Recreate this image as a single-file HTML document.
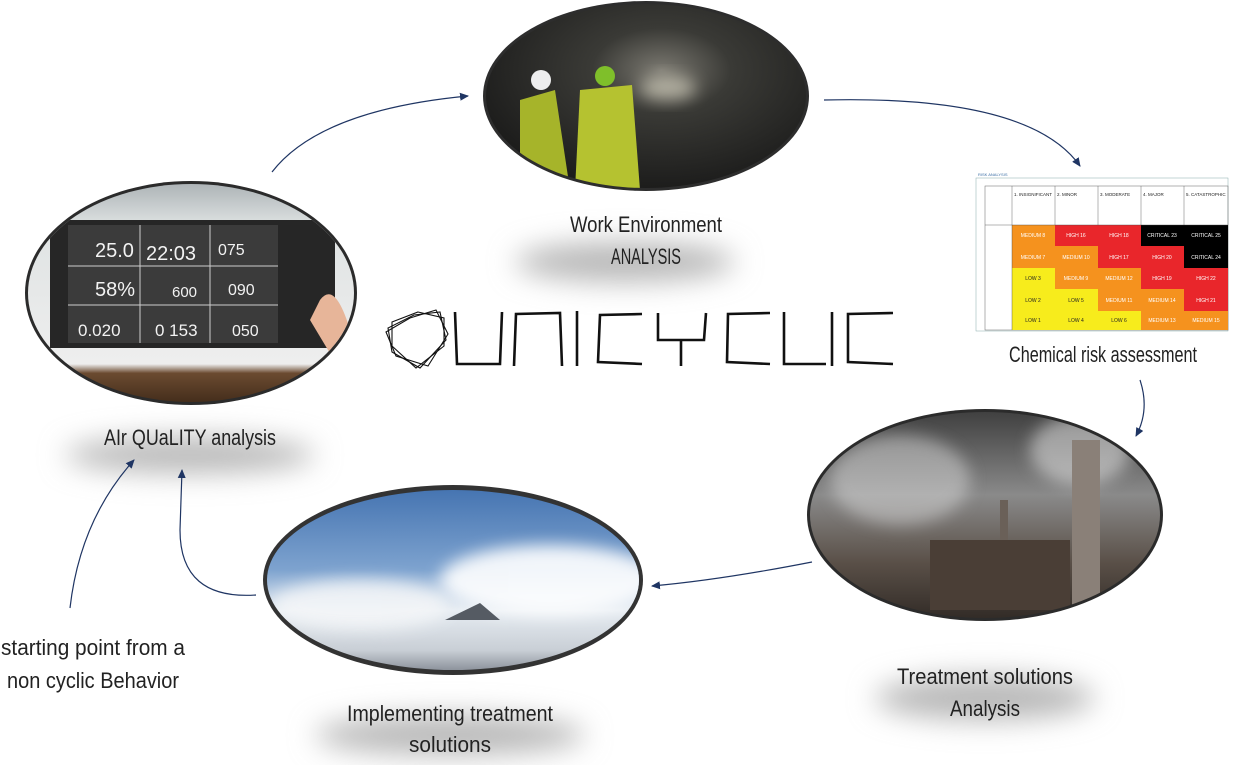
<!DOCTYPE html>
<html><head><meta charset="utf-8"><style>
html,body{margin:0;padding:0;background:#fff;width:1257px;height:765px;overflow:hidden}
svg text{font-family:"Liberation Sans Narrow","Liberation Sans",sans-serif}
</style></head><body>
<svg width="1257" height="765" viewBox="0 0 1257 765" xmlns="http://www.w3.org/2000/svg">
<defs>
<filter id="blur" x="-50%" y="-50%" width="200%" height="200%"><feGaussianBlur stdDeviation="14"/></filter>
<filter id="sb" x="-50%" y="-50%" width="200%" height="200%"><feGaussianBlur stdDeviation="8"/></filter>
<radialGradient id="mine" cx="0.55" cy="0.35" r="0.7"><stop offset="0" stop-color="#7a7870"/><stop offset="0.3" stop-color="#3a3a36"/><stop offset="1" stop-color="#141414"/></radialGradient>
<linearGradient id="sky" x1="0" y1="0" x2="0" y2="1"><stop offset="0" stop-color="#3f6fae"/><stop offset="0.45" stop-color="#7ea3cf"/><stop offset="0.65" stop-color="#e6ecf2"/><stop offset="0.85" stop-color="#c9cfd6"/><stop offset="1" stop-color="#6f7580"/></linearGradient>
<linearGradient id="fac" x1="0" y1="0" x2="0" y2="1"><stop offset="0" stop-color="#3a3a3a"/><stop offset="0.4" stop-color="#8a8a8a"/><stop offset="0.7" stop-color="#5a5048"/><stop offset="1" stop-color="#2a2420"/></linearGradient>
<linearGradient id="air" x1="0" y1="0" x2="0" y2="1"><stop offset="0" stop-color="#a9b0b3"/><stop offset="0.2" stop-color="#dfe3e3"/><stop offset="0.8" stop-color="#eeeeee"/><stop offset="0.84" stop-color="#6b4a30"/><stop offset="1" stop-color="#3a2616"/></linearGradient>
<clipPath id="c1"><ellipse cx="646" cy="96" rx="160" ry="92"/></clipPath>
<clipPath id="c2"><ellipse cx="191" cy="293" rx="163" ry="109"/></clipPath>
<clipPath id="c3"><ellipse cx="985" cy="515" rx="175" ry="103"/></clipPath>
<clipPath id="c4"><ellipse cx="453" cy="580" rx="186" ry="90"/></clipPath>
<marker id="ar" markerWidth="10" markerHeight="10" refX="8" refY="5" orient="auto" markerUnits="userSpaceOnUse"><path d="M0,1 L9,5 L0,9 Z" fill="#1f3563"/></marker>
</defs>

<g filter="url(#blur)" fill="#b8b8b8">
<ellipse cx="190" cy="455" rx="125" ry="18"/>
<ellipse cx="625" cy="262" rx="110" ry="20"/>
<ellipse cx="985" cy="698" rx="110" ry="22"/>
<ellipse cx="450" cy="735" rx="135" ry="20"/>
</g>

<ellipse cx="646" cy="96" rx="163" ry="95" fill="#2d2d2d"/>
<g clip-path="url(#c1)">
<rect x="480" y="0" width="330" height="200" fill="url(#mine)"/>
<ellipse cx="668" cy="88" rx="28" ry="12" fill="#e8e4d0" opacity="0.6" filter="url(#sb)"/>
<path d="M520,100 L555,90 L570,190 L520,190Z" fill="#a6b42a"/>
<path d="M580,90 L632,85 L640,190 L575,190Z" fill="#b5c230"/>
<circle cx="541" cy="80" r="10" fill="#eee"/><circle cx="605" cy="76" r="10" fill="#7fbf2a"/>
</g>

<ellipse cx="191" cy="293" rx="166" ry="112" fill="#2b2b2b"/>
<g clip-path="url(#c2)">
<rect x="20" y="180" width="345" height="230" fill="url(#air)"/>
<rect x="50" y="220" width="285" height="128" fill="#262626"/>
<rect x="68" y="225" width="210" height="118" fill="#3b3b3b"/>
<g stroke="#ccc" stroke-width="1"><line x1="68" y1="266" x2="278" y2="266"/><line x1="68" y1="305" x2="278" y2="305"/><line x1="140" y1="225" x2="140" y2="343"/><line x1="210" y1="225" x2="210" y2="343"/></g>
<g fill="#f2f2f2" font-size="20"><text x="95" y="257">25.0</text><text x="146" y="260">22:03</text><text x="218" y="255" font-size="16">075</text><text x="95" y="296">58%</text><text x="172" y="297" font-size="15">600</text><text x="228" y="295" font-size="16">090</text><text x="78" y="336" font-size="17">0.020</text><text x="155" y="336" font-size="17">0 153</text><text x="232" y="336" font-size="16">050</text></g>
<path d="M320,300 Q335,280 350,330 L340,370 L310,320Z" fill="#e7b599"/>
</g>

<g font-size="5" font-family="Liberation Sans,sans-serif">
<rect x="976" y="178" width="252" height="153" fill="#fff" stroke="#8aa" stroke-width="0.5"/>
<text x="978" y="176" font-size="4" fill="#3b6ea5">RISK ANALYSIS</text>
<g stroke="#666" stroke-width="0.5" fill="none"><rect x="985" y="186" width="243" height="144"/></g>
<g>
<rect x="1012" y="225" width="43" height="21" fill="#f5921e"/><rect x="1055" y="225" width="43" height="21" fill="#e9262b"/><rect x="1098" y="225" width="43" height="21" fill="#e9262b"/><rect x="1141" y="225" width="43" height="21" fill="#000"/><rect x="1184" y="225" width="44" height="21" fill="#000"/>
<rect x="1012" y="246" width="43" height="22" fill="#f5921e"/><rect x="1055" y="246" width="43" height="22" fill="#f5921e"/><rect x="1098" y="246" width="43" height="22" fill="#e9262b"/><rect x="1141" y="246" width="43" height="22" fill="#e9262b"/><rect x="1184" y="246" width="44" height="22" fill="#000"/>
<rect x="1012" y="268" width="43" height="21" fill="#f7ec1c"/><rect x="1055" y="268" width="43" height="21" fill="#f5921e"/><rect x="1098" y="268" width="43" height="21" fill="#f5921e"/><rect x="1141" y="268" width="43" height="21" fill="#e9262b"/><rect x="1184" y="268" width="44" height="21" fill="#e9262b"/>
<rect x="1012" y="289" width="43" height="22" fill="#f7ec1c"/><rect x="1055" y="289" width="43" height="22" fill="#f7ec1c"/><rect x="1098" y="289" width="43" height="22" fill="#f5921e"/><rect x="1141" y="289" width="43" height="22" fill="#f5921e"/><rect x="1184" y="289" width="44" height="22" fill="#e9262b"/>
<rect x="1012" y="311" width="43" height="19" fill="#f7ec1c"/><rect x="1055" y="311" width="43" height="19" fill="#f7ec1c"/><rect x="1098" y="311" width="43" height="19" fill="#f7ec1c"/><rect x="1141" y="311" width="43" height="19" fill="#f5921e"/><rect x="1184" y="311" width="44" height="19" fill="#f5921e"/>
</g>
<g stroke="#444" stroke-width="0.4"><line x1="1012" y1="186" x2="1012" y2="330"/><line x1="1055" y1="186" x2="1055" y2="225"/><line x1="1098" y1="186" x2="1098" y2="225"/><line x1="1141" y1="186" x2="1141" y2="225"/><line x1="1184" y1="186" x2="1184" y2="225"/><line x1="985" y1="225" x2="1228" y2="225"/></g>
<g fill="#222" font-size="4.5"><text x="1014" y="196">1. INSIGNIFICANT</text><text x="1057" y="196">2. MINOR</text><text x="1100" y="196">3. MODERATE</text><text x="1143" y="196">4. MAJOR</text><text x="1186" y="196">5. CATASTROPHIC</text></g>
<g fill="#fff" text-anchor="middle"><text x="1033" y="237">MEDIUM 8</text><text x="1076" y="237">HIGH 16</text><text x="1119" y="237">HIGH 18</text><text x="1162" y="237">CRITICAL 23</text><text x="1206" y="237">CRITICAL 25</text>
<text x="1033" y="259">MEDIUM 7</text><text x="1076" y="259">MEDIUM 10</text><text x="1119" y="259">HIGH 17</text><text x="1162" y="259">HIGH 20</text><text x="1206" y="259">CRITICAL 24</text>
<text x="1076" y="280">MEDIUM 9</text><text x="1119" y="280">MEDIUM 12</text><text x="1162" y="280">HIGH 19</text><text x="1206" y="280">HIGH 22</text>
<text x="1119" y="302">MEDIUM 11</text><text x="1162" y="302">MEDIUM 14</text><text x="1206" y="302">HIGH 21</text>
<text x="1162" y="322">MEDIUM 13</text><text x="1206" y="322">MEDIUM 15</text></g>
<g fill="#222" text-anchor="middle"><text x="1033" y="280">LOW 3</text><text x="1033" y="302">LOW 2</text><text x="1076" y="302">LOW 5</text><text x="1033" y="322">LOW 1</text><text x="1076" y="322">LOW 4</text><text x="1119" y="322">LOW 6</text></g>
</g>

<ellipse cx="985" cy="515" rx="178" ry="106" fill="#2b2b2b"/>
<g clip-path="url(#c3)">
<rect x="805" y="405" width="360" height="225" fill="url(#fac)"/>
<ellipse cx="900" cy="480" rx="70" ry="45" fill="#d8d8d8" opacity="0.5" filter="url(#sb)"/>
<ellipse cx="1080" cy="450" rx="50" ry="35" fill="#eee" opacity="0.5" filter="url(#sb)"/>
<rect x="1072" y="440" width="28" height="180" fill="#8a8078"/>
<rect x="1000" y="500" width="8" height="100" fill="#6a6058"/>
<rect x="930" y="540" width="140" height="70" fill="#4a3e36"/>
</g>

<ellipse cx="453" cy="580" rx="190" ry="95" fill="#333"/>
<g clip-path="url(#c4)">
<rect x="260" y="480" width="390" height="200" fill="url(#sky)"/>
<ellipse cx="550" cy="580" rx="110" ry="35" fill="#fff" opacity="0.9" filter="url(#sb)"/>
<ellipse cx="360" cy="605" rx="90" ry="25" fill="#f4f6f8" opacity="0.85" filter="url(#sb)"/>
<path d="M445,620 L480,603 L500,620Z" fill="#555b63"/>
</g>

<g fill="none" stroke="#111" stroke-width="1.1">
<polygon points="414,315 440,312 446,340 420,368 392,352 388,328"/>
<polygon points="418,312 444,318 444,346 416,368 392,346 392,322"/>
<polygon points="410,318 436,310 448,334 428,366 396,356 386,332"/>
</g>
<g fill="none" stroke="#111" stroke-width="2.6">
<path d="M455,312 L457,364 L500,364 L502,312"/>
<path d="M514,366 L516,314 L560,313 L562,366"/>
<path d="M577,311 L577,366"/>
<path d="M642,314 L600,315 L598,362 L642,364"/>
<path d="M658,313 L658,340 L704,340 L706,313 M681,340 L681,366"/>
<path d="M770,313 L728,314 L727,362 L770,364"/>
<path d="M784,312 L784,364 L826,364"/>
<path d="M832,312 L832,366"/>
<path d="M893,313 L848,314 L848,362 L893,364"/>
</g>

<g fill="none" stroke="#1f3563" stroke-width="1.2" marker-end="url(#ar)">
<path d="M272,172 Q320,110 468,96"/>
<path d="M824,100 Q1030,95 1080,166"/>
<path d="M1140,380 Q1150,410 1136,436"/>
<path d="M812,562 Q720,580 652,586"/>
<path d="M256,595 Q180,600 180,530 L182,470"/>
<path d="M70,608 Q80,520 134,460"/>
</g>

<g font-size="22" fill="#222" text-anchor="middle">
<text x="190" y="445" textLength="172" lengthAdjust="spacingAndGlyphs">AIr QUaLITY analysis</text>
<text x="646" y="232" textLength="152" lengthAdjust="spacingAndGlyphs">Work Environment</text>
<text x="646" y="264" textLength="70" lengthAdjust="spacingAndGlyphs">ANALYSIS</text>
<text x="1103" y="362" textLength="188" lengthAdjust="spacingAndGlyphs">Chemical risk assessment</text>
<text x="985" y="684" textLength="176" lengthAdjust="spacingAndGlyphs">Treatment solutions</text>
<text x="985" y="716" textLength="70" lengthAdjust="spacingAndGlyphs">Analysis</text>
<text x="450" y="721" textLength="206" lengthAdjust="spacingAndGlyphs">Implementing treatment</text>
<text x="450" y="752" textLength="82" lengthAdjust="spacingAndGlyphs">solutions</text>
<text x="93" y="655" textLength="184" lengthAdjust="spacingAndGlyphs">starting point from a</text>
<text x="93" y="688" textLength="172" lengthAdjust="spacingAndGlyphs">non cyclic Behavior</text>
</g>
</svg>
</body></html>
